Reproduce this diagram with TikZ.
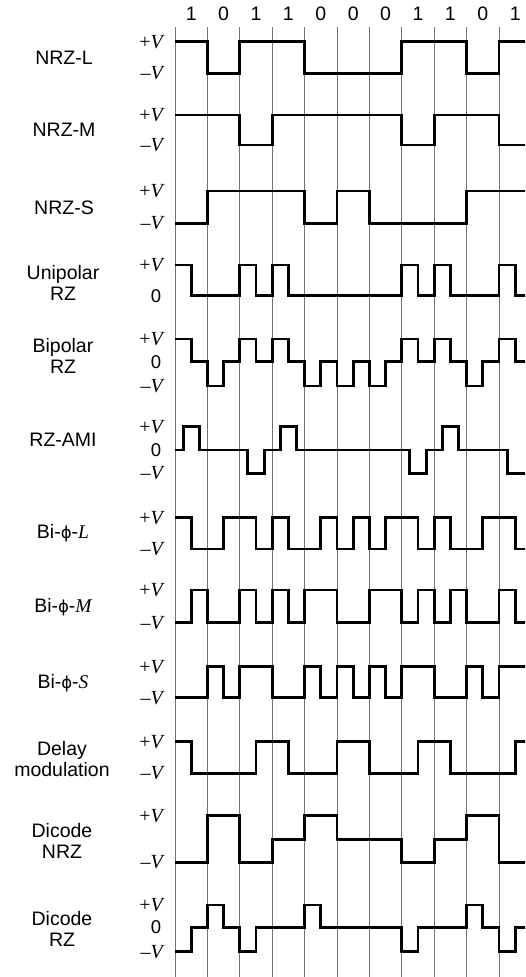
\documentclass[tikz,border=0pt]{standalone}
\usepackage{fontspec}
\setmainfont{Liberation Sans}
\newfontfamily\vfont{Liberation Serif}
\newfontfamily\phifont{DejaVu Sans}
\tikzset{
  wave/.style={line width=2.9pt, line join=miter, black},
  gridline/.style={line width=0.8pt, black!55},
  rowlabel/.style={font=\fontsize{19.5}{21}\selectfont, align=center, inner sep=0pt},
  lvl/.style={font=\vfont\fontsize{20}{22}\selectfont, anchor=east, inner sep=0pt},
  zlvl/.style={font=\fontsize{18.5}{20}\selectfont, inner sep=0pt},
  bitlabel/.style={font=\fontsize{19.5}{21}\selectfont, inner sep=0pt},
}
\newcommand\wavepath[3]{%
  \draw[wave] (175,#1) \foreach \q/\l in {#2} { -| ({175+8.1*\q},\l) } -- (540,#3);
}
\newcommand\pV{+{\itshape V}}
\newcommand\mV{–{\itshape V}}
\newcommand\bphi{{\phifont\fontsize{16.5}{18}\selectfont ϕ}}
\begin{document}
\begin{tikzpicture}[x=1pt,y=-1pt]
\useasboundingbox (0,0) rectangle (525,977);
\fill[white] (0,0) rectangle (525,977);
% grid
\foreach \k in {0,...,10} \draw[gridline] ({175+32.4*\k},27) -- ({175+32.4*\k},980);
% bit labels
\foreach \b [count=\i from 0] in {1,0,1,1,0,0,0,1,1,0,1}
  \node[bitlabel] (bit\i) at ({191.2+32.4*\i},14) {\b};
% row labels
\node[rowlabel] (lNRZL) at (64,58) {NRZ-L};
\node[rowlabel] (lNRZM) at (64,130) {NRZ-M};
\node[rowlabel] (lNRZS) at (64,208) {NRZ-S};
\node[rowlabel] (lURZ) at (63,283) {Unipolar\\RZ};
\node[rowlabel] (lBRZ) at (63,356) {Bipolar\\RZ};
\node[rowlabel] (lAMI) at (63,440) {RZ-AMI};
\node[rowlabel] (lBL) at (63,533) {Bi-\bphi-{\vfont\itshape L}};
\node[rowlabel] (lBM) at (63,607) {Bi-\bphi-{\vfont\itshape M}};
\node[rowlabel] (lBS) at (63,683) {Bi-\bphi-{\vfont\itshape S}};
\node[rowlabel] (lDM) at (62,759) {Delay\\modulation};
\node[rowlabel] (lDN) at (62,841) {Dicode\\NRZ};
\node[rowlabel] (lDR) at (62,929) {Dicode\\RZ};
% level labels
\node[lvl] (a1) at (163,41.7) {\pV};  \node[lvl] (a2) at (163,73.3) {\mV};
\node[lvl] (b1) at (163,115) {\pV};   \node[lvl] (b2) at (163,145) {\mV};
\node[lvl] (c1) at (163,191) {\pV};   \node[lvl] (c2) at (163,223.3) {\mV};
\node[lvl] (d1) at (163,265) {\pV};   \node[zlvl] (d2) at (156,295.7) {0};
\node[lvl] (e1) at (163,339) {\pV};   \node[zlvl] (e2) at (156,361.7) {0}; \node[lvl] (e3) at (163,386) {\mV};
\node[lvl] (f1) at (163,426.7) {\pV}; \node[zlvl] (f2) at (156,450) {0};   \node[lvl] (f3) at (163,473.3) {\mV};
\node[lvl] (g1) at (163,517.7) {\pV}; \node[lvl] (g2) at (163,549) {\mV};
\node[lvl] (h1) at (163,590) {\pV};   \node[lvl] (h2) at (163,622.7) {\mV};
\node[lvl] (i1) at (163,666.7) {\pV}; \node[lvl] (i2) at (163,697.7) {\mV};
\node[lvl] (j1) at (163,741.7) {\pV}; \node[lvl] (j2) at (163,773.3) {\mV};
\node[lvl] (k1) at (163,815.7) {\pV}; \node[lvl] (k2) at (163,862.3) {\mV};
\node[lvl] (m1) at (163,905) {\pV};   \node[zlvl] (m2) at (156,927.3) {0}; \node[lvl] (m3) at (163,951.7) {\mV};
% waveforms
\begin{scope}
\clip (0,0) rectangle (525,977);
% NRZ-L
\wavepath{41.7}{4/73.3,8/41.7,16/73.3,28/41.7,36/73.3,40/41.7}{41.7}
% NRZ-M
\wavepath{115}{8/145,12/115,28/145,32/115,40/145}{145}
% NRZ-S
\wavepath{223.3}{4/191,16/223.3,20/191,24/223.3,36/191}{191}
% Unipolar RZ
\wavepath{265}{2/295.7,8/265,10/295.7,12/265,14/295.7,28/265,30/295.7,32/265,34/295.7,40/265,42/295.7}{295.7}
% Bipolar RZ
\wavepath{339}{2/361.7,4/386,6/361.7,8/339,10/361.7,12/339,14/361.7,16/386,18/361.7,20/386,22/361.7,24/386,26/361.7,28/339,30/361.7,32/339,34/361.7,36/386,38/361.7,40/339,42/361.7}{361.7}
% RZ-AMI
\wavepath{450}{1/426.7,3/450,9/473.3,11/450,13/426.7,15/450,29/473.3,31/450,33/426.7,35/450,41/473.3,43.5/450}{450}
% Bi-phi-L
\wavepath{517.7}{2/549,6/517.7,10/549,12/517.7,14/549,18/517.7,20/549,22/517.7,24/549,26/517.7,30/549,32/517.7,34/549,38/517.7,42/549}{549}
% Bi-phi-M
\wavepath{622.7}{2/590,4/622.7,8/590,10/622.7,12/590,14/622.7,16/590,20/622.7,24/590,28/622.7,30/590,32/622.7,34/590,36/622.7,40/590,42/622.7}{622.7}
% Bi-phi-S
\wavepath{697.7}{4/666.7,6/697.7,8/666.7,12/697.7,16/666.7,18/697.7,20/666.7,22/697.7,24/666.7,26/697.7,28/666.7,32/697.7,36/666.7,38/697.7,40/666.7}{666.7}
% Delay modulation
\wavepath{741.7}{2/773.3,10/741.7,14/773.3,20/741.7,24/773.3,30/741.7,34/773.3,42/741.7}{741.7}
% Dicode NRZ
\wavepath{862.3}{4/815.7,8/862.3,12/839.3,16/815.7,20/839.3,28/862.3,32/839.3,36/815.7,40/862.3}{862.3}
% Dicode RZ
\wavepath{951.7}{2/927.3,4/905,6/927.3,8/951.7,10/927.3,16/905,18/927.3,28/951.7,30/927.3,36/905,38/927.3,40/951.7,42/927.3}{927.3}
\end{scope}
\end{tikzpicture}
\end{document}
